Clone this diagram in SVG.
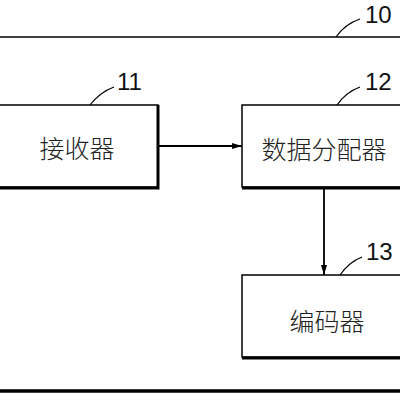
<svg xmlns="http://www.w3.org/2000/svg" width="400" height="400" viewBox="0 0 400 400">
<defs>
<style>
.box{fill:#fff;stroke:#000;stroke-width:1.5}
.sh{fill:none;stroke:#000;stroke-width:3}
.t{font-family:"Noto Sans CJK SC","Noto Sans",sans-serif;font-size:25px;font-weight:300;fill:#222;text-anchor:middle;dominant-baseline:central}
.n{font-family:"Liberation Sans",Arial,sans-serif;font-size:24px;fill:#111}
.ld{fill:none;stroke:#000;stroke-width:1.2}
.ln{stroke:#000;stroke-width:1.8;fill:none}
</style>
<marker id="ah" markerWidth="10" markerHeight="8" refX="10" refY="4" orient="auto" markerUnits="userSpaceOnUse">
<path d="M0,1 L10,4 L0,7 Z" fill="#000"/>
</marker>
</defs>
<g id="outer">
<line x1="0" y1="37" x2="400" y2="37" stroke="#000" stroke-width="1.5"/>
<line x1="0" y1="391" x2="400" y2="391" stroke="#000" stroke-width="3.5"/>
<path class="ld" d="M336,37 Q345,24 360,19"/>
<text class="n" x="365" y="23">10</text>
</g>
<g id="n11">
<rect class="box" x="-5" y="105" width="163" height="82"/>
<path class="sh" d="M158,105 V188 H-5"/>
<path class="ld" d="M90,105 Q100,92 114,87"/>
<text class="n" x="117" y="90">11</text>
<text class="t" x="77" y="147">接收器</text>
</g>
<g id="n12">
<rect class="box" x="242" y="105" width="170" height="82"/>
<path class="sh" d="M242,188 H405"/>
<path class="ld" d="M337,105 Q346,92 360,87"/>
<text class="n" x="365" y="90">12</text>
<text class="t" x="324" y="148">数据分配器</text>
</g>
<g id="n13">
<rect class="box" x="242" y="275" width="170" height="82"/>
<path class="sh" d="M242,358 H405"/>
<path class="ld" d="M340,275 Q349,262 362,257"/>
<text class="n" x="366" y="260">13</text>
<text class="t" x="327" y="320">编码器</text>
</g>
<g id="connectors">
<line class="ln" x1="159" y1="146" x2="242" y2="146" marker-end="url(#ah)"/>
<line class="ln" x1="324" y1="189" x2="324" y2="275" marker-end="url(#ah)"/>
</g>
</svg>
